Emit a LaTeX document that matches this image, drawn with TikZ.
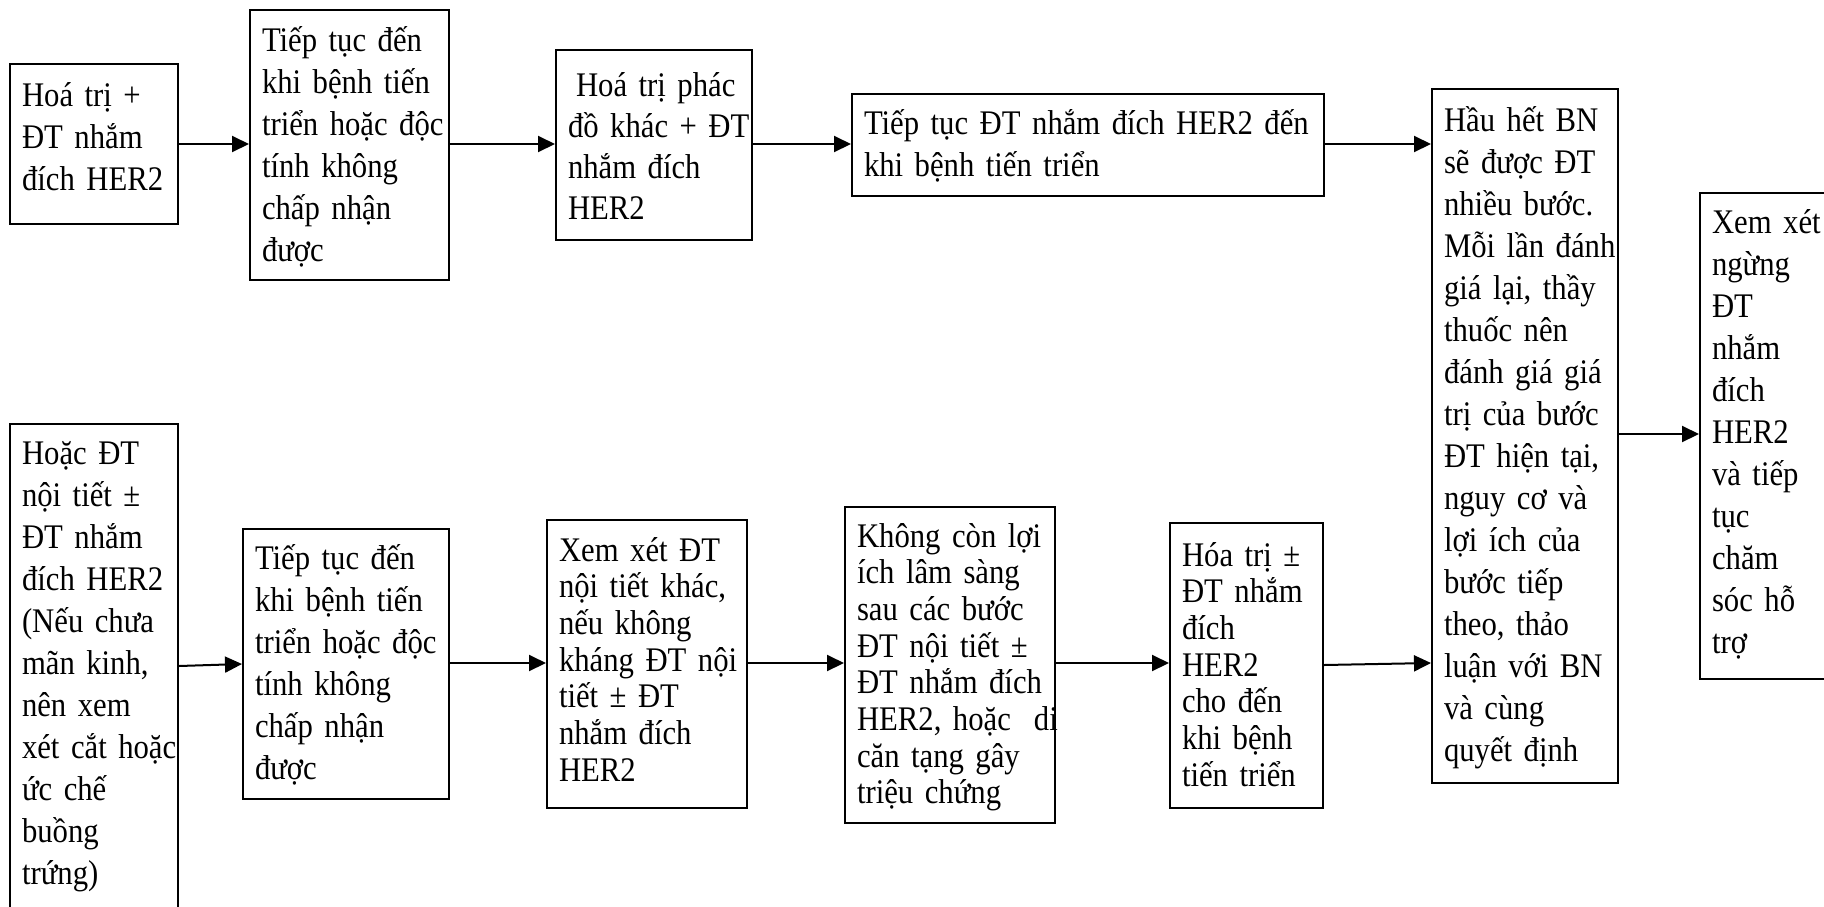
\documentclass[tikz,border=0pt]{standalone}
\usepackage{fontspec}
\setmainfont[FakeStretch=0.89, WordSpace=0.85]{Liberation Serif}
\usetikzlibrary{arrows.meta}
\begin{document}
\begin{tikzpicture}[x=1pt, y=-1pt,
  box/.style={draw, line width=2pt, anchor=north west, inner xsep=12pt, inner ysep=0pt,
    align=left, font={\fontsize{34.5}{42}\selectfont\lineskiplimit=-100pt\relax}},
  tight/.style={font={\fontsize{34.5}{36.7}\selectfont\lineskiplimit=-100pt\relax}},
  arr/.style={line width=2pt, -{Triangle[length=17pt,width=16pt]}}]
\useasboundingbox (0,0) rectangle (1824,906);
\clip (0,0) rectangle (1824,906);

% upper row
\node[box, text width=144pt, text height=42pt, text depth=118pt] (A1) at (9,63)
  {Hoá~trị~+\\ĐT~nhắm\\đích~HER2};
\node[box, text width=175pt, text height=41pt, text depth=229pt] (A2) at (249,9)
  {Tiếp~tục~đến\\khi~bệnh~tiến\\triển~hoặc~độc\\tính~không\\chấp~nhận\\được};
\node[box, text width=172pt, text height=46pt, text depth=144pt,
  font={\fontsize{34.5}{41}\selectfont\lineskiplimit=-100pt\relax}] (A3) at (555,49)
  {\hspace*{8pt}Hoá~trị~phác\\đồ~khác~+~ĐT\\nhắm~đích\\HER2};
\node[box, text width=448pt, text height=40pt, text depth=62pt] (A4) at (851,93)
  {Tiếp~tục~ĐT~nhắm~đích~HER2~đến\\khi~bệnh~tiến~triển};

% shared step and final box
\node[box, text width=162pt, text height=42pt, text depth=652pt] (A5) at (1431,88)
  {Hầu~hết~BN\\sẽ~được~ĐT\\nhiều~bước.\\Mỗi~lần~đánh\\giá~lại,~thầy\\thuốc~nên\\đánh~giá~giá\\trị~của~bước\\ĐT~hiện~tại,\\nguy~cơ~và\\lợi~ích~của\\bước~tiếp\\theo,~thảo\\luận~với~BN\\và~cùng\\quyết~định};
\node[box, text width=127pt, text height=40pt, text depth=446pt] (F) at (1699,192)
  {Xem~xét\\ngừng\\ĐT\\nhắm\\đích\\HER2\\và~tiếp\\tục\\chăm\\sóc~hỗ\\trợ};

% lower row
\node[box, text width=144pt, text height=40pt, text depth=472pt] (B1) at (9,423)
  {Hoặc~ĐT\\nội~tiết~±\\ĐT~nhắm\\đích~HER2\\(Nếu~chưa\\mãn~kinh,\\nên~xem\\xét~cắt~hoặc\\ức~chế\\buồng\\trứng)};
\node[box, text width=182pt, text height=40pt, text depth=230pt] (B2) at (242,528)
  {Tiếp~tục~đến\\khi~bệnh~tiến\\triển~hoặc~độc\\tính~không\\chấp~nhận\\được};
\node[box, tight, text width=176pt, text height=41pt, text depth=247pt] (B3) at (546,519)
  {Xem~xét~ĐT\\nội~tiết~khác,\\nếu~không\\kháng~ĐT~nội\\tiết~±~ĐT\\nhắm~đích\\HER2};
\node[box, tight, text width=186pt, text height=40pt, text depth=276pt] (B4) at (844,506)
  {Không~còn~lợi\\ích~lâm~sàng\\sau~các~bước\\ĐT~nội~tiết~±\\ĐT~nhắm~đích\\HER2,~hoặc~~di\\căn~tạng~gây\\triệu~chứng};
\node[box, tight, text width=129pt, text height=43pt, text depth=242pt] (B5) at (1169,522)
  {Hóa~trị~±\\ĐT~nhắm\\đích\\HER2\\cho~đến\\khi~bệnh\\tiến~triển};

% connectors
\draw[arr] (A1.east |- 0,144) -- (A2.west |- 0,144);
\draw[arr] (A2.east |- 0,144) -- (A3.west |- 0,144);
\draw[arr] (A3.east |- 0,144) -- (A4.west |- 0,144);
\draw[arr] (A4.east |- 0,144) -- (A5.west |- 0,144);
\draw[arr] (A5.east |- 0,434) -- (F.west |- 0,434);
\draw[arr] (B1.east |- 0,666) -- (B2.west |- 0,664);
\draw[arr] (B2.east |- 0,663) -- (B3.west |- 0,663);
\draw[arr] (B3.east |- 0,663) -- (B4.west |- 0,663);
\draw[arr] (B4.east |- 0,663) -- (B5.west |- 0,663);
\draw[arr] (B5.east |- 0,665) -- (A5.west |- 0,663);
\end{tikzpicture}
\end{document}
